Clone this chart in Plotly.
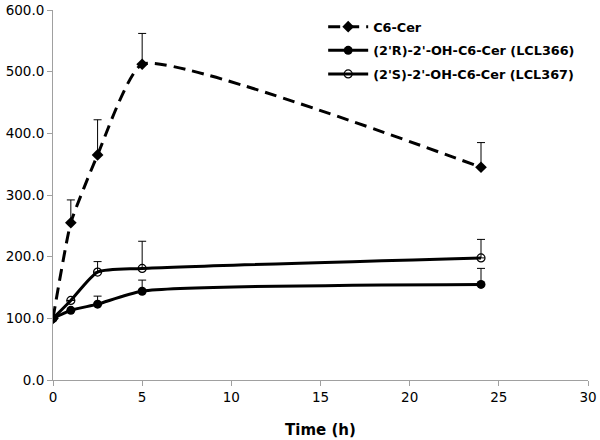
import plotly.graph_objects as go

time = [0, 1, 2.5, 5, 24]
c6_cer = [100, 255, 365, 512, 345]
c6_cer_err = [0, 37, 57, 50, 40]
lcl366 = [100, 113, 123, 144, 155]
lcl366_err = [0, 0, 13, 18, 26]
lcl367 = [100, 129, 175, 181, 198]
lcl367_err = [0, 0, 17, 44, 30]

names = ["C6-Cer", "(2'R)-2'-OH-C6-Cer (LCL366)", "(2'S)-2'-OH-C6-Cer (LCL367)"]

fig = go.Figure()

def err(a):
    return dict(type="data", symmetric=False, array=a, arrayminus=[0]*len(a),
                color="black", thickness=1, width=4)

fig.add_trace(go.Scatter(
    x=time, y=c6_cer, name=names[0], mode="lines+markers",
    line=dict(color="black", width=3, dash="12px,7px", shape="spline", smoothing=0.45),
    marker=dict(symbol="diamond", size=9, color="black"),
    error_y=err(c6_cer_err), legendgroup="a"))
fig.add_trace(go.Scatter(
    x=time, y=lcl366, name=names[1], mode="lines+markers",
    line=dict(color="black", width=3, shape="spline", smoothing=0.6),
    marker=dict(symbol="circle", size=9, color="black"),
    error_y=err(lcl366_err), legendgroup="b"))
fig.add_trace(go.Scatter(
    x=time, y=lcl367, name=names[2], mode="lines+markers",
    line=dict(color="black", width=3, shape="spline", smoothing=0.6),
    marker=dict(symbol="circle-open", size=8, color="black", line=dict(width=1.2)),
    error_y=err(lcl367_err), legendgroup="c"))

axis_common = dict(showline=True, linecolor="#a0a0a0", linewidth=1, ticks="outside",
                   tickcolor="#a0a0a0", ticklen=5, showgrid=False, zeroline=False,
                   automargin=False,
                   tickfont=dict(family="DejaVu Sans", size=13.5, color="black"))

fig.update_layout(
    width=600, height=440,
    margin=dict(l=53, r=12, t=10, b=60),
    plot_bgcolor="white", paper_bgcolor="white",
    xaxis=dict(range=[0, 30], dtick=5, title=dict(text="<b>Time (h)</b>",
               font=dict(family="DejaVu Sans", size=15, color="black"), standoff=20),
               **axis_common),
    yaxis=dict(range=[0, 600], dtick=100, tickformat=".1f", **axis_common),
    legend=dict(x=0.505, y=0.995, xanchor="left", yanchor="top",
                font=dict(family="DejaVu Sans", size=12.8, color="black", weight="bold"),
                bgcolor="rgba(0,0,0,0)", itemwidth=40, tracegroupgap=4,
                traceorder="grouped"),
    showlegend=True,
)

fig.write_html("out.html", config={"displayModeBar": False},
               post_script="document.body.style.margin='0';")
